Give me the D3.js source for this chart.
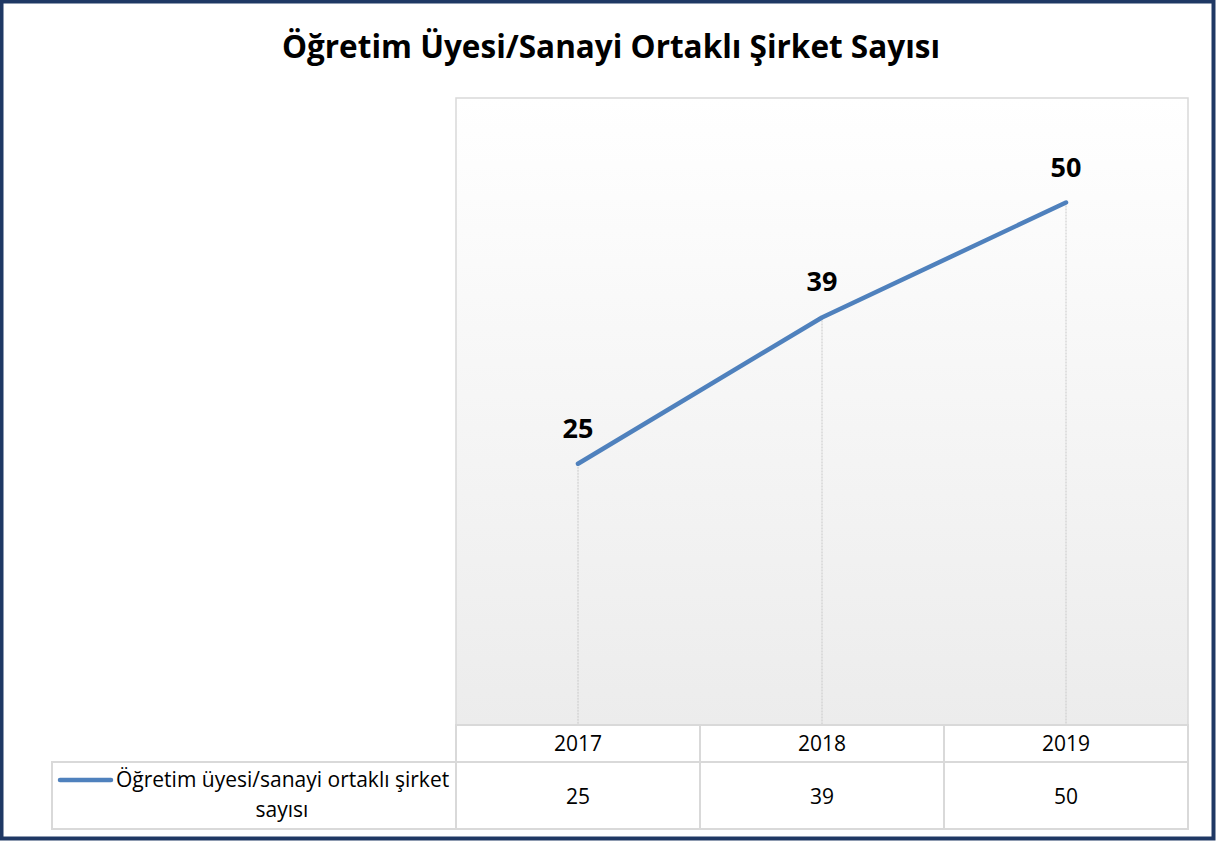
<!DOCTYPE html>
<html lang="tr">
<head>
    <meta charset='utf-8'>
    <title>Öğretim Üyesi/Sanayi Ortaklı Şirket Sayısı</title>
    <style>
        body{
            margin: 0;
            background: #fff;
        }
        text {
            font-family: "Open Sans", "Noto Sans", sans-serif;
            fill: #000;
        }
    </style>
</head>
<body>
<div id="chart"></div>
<script src='https://cdn.jsdelivr.net/npm/d3@7/dist/d3.min.js'></script>
<script>
    var width = 1217, height = 843;

    var years = ["2017", "2018", "2019"];
    var values = [25, 39, 50];
    var seriesName = "Öğretim üyesi/sanayi ortaklı şirket sayısı";
    var title = "Öğretim Üyesi/Sanayi Ortaklı Şirket Sayısı";

    var lineColor = "#4f81bd";
    var gridColor = "#d9d9d9";

    var plot = {left: 456, right: 1188, top: 98, bottom: 725};
    var table = {left: 52, row1: 762, bottom: 829};

    var svg = d3.select("#chart").append("svg")
        .attr("width", width).attr("height", height);

    // outer frame
    svg.append("rect")
        .attr("x", 1.5).attr("y", 1.5)
        .attr("width", width - 5).attr("height", height - 6)
        .attr("fill", "#fff")
        .attr("stroke", "#1f3864")
        .attr("stroke-width", 4);

    svg.append("text")
        .attr("x", 611).attr("y", 58)
        .style("text-anchor", "middle")
        .style("font-weight", "bold")
        .style("font-size", "31.5px")
        .text(title);

    var defs = svg.append("defs");
    var grad = defs.append("linearGradient")
        .attr("id", "bg").attr("x1", 0).attr("y1", 0).attr("x2", 0).attr("y2", 1);
    grad.append("stop").attr("offset", "0%").attr("stop-color", "#ffffff");
    grad.append("stop").attr("offset", "100%").attr("stop-color", "#ececec");

    var x = d3.scalePoint()
        .domain(years)
        .range([plot.left, plot.right])
        .padding(0.5);

    var y = d3.scaleLinear()
        .domain([0, 60])
        .range([plot.bottom, plot.top]);

    svg.append("rect")
        .attr("x", plot.left).attr("y", plot.top)
        .attr("width", plot.right - plot.left)
        .attr("height", plot.bottom - plot.top)
        .attr("fill", "url(#bg)")
        .attr("stroke", gridColor)
        .attr("stroke-width", 1.5);

    var data = years.map(function(d, i){ return {year: d, value: values[i]}; });

    // drop lines
    svg.selectAll(".drop")
        .data(data).enter()
        .append("line")
        .attr("class", "drop")
        .attr("x1", function(d){ return x(d.year); })
        .attr("x2", function(d){ return x(d.year); })
        .attr("y1", function(d){ return y(d.value); })
        .attr("y2", plot.bottom)
        .attr("stroke", "#c8c8c8")
        .attr("stroke-width", 1)
        .attr("stroke-dasharray", "2,1");

    var line = d3.line()
        .x(function(d){ return x(d.year); })
        .y(function(d){ return y(d.value); });

    svg.append("path")
        .datum(data)
        .attr("d", line)
        .attr("fill", "none")
        .attr("stroke", lineColor)
        .attr("stroke-width", 4.5)
        .attr("stroke-linecap", "round")
        .attr("stroke-linejoin", "round");

    svg.selectAll(".lbl")
        .data(data).enter()
        .append("text")
        .attr("class", "lbl")
        .attr("x", function(d){ return x(d.year); })
        .attr("y", function(d){ return y(d.value) - 26; })
        .style("text-anchor", "middle")
        .style("font-weight", "bold")
        .style("font-size", "27px")
        .text(function(d){ return d.value; });

    // data table
    var colW = x.step();
    var tbl = svg.append("g")
        .attr("stroke", gridColor)
        .attr("stroke-width", 2)
        .attr("fill", "none");
    tbl.append("rect")
        .attr("x", plot.left).attr("y", plot.bottom)
        .attr("width", plot.right - plot.left).attr("height", table.bottom - plot.bottom);
    tbl.append("rect")
        .attr("x", table.left).attr("y", table.row1)
        .attr("width", plot.right - table.left).attr("height", table.bottom - table.row1);
    years.slice(1).forEach(function(d){
        tbl.append("line")
            .attr("x1", x(d) - colW / 2).attr("x2", x(d) - colW / 2)
            .attr("y1", plot.bottom).attr("y2", table.bottom);
    });

    svg.selectAll(".yr")
        .data(years).enter()
        .append("text")
        .attr("x", function(d){ return x(d); })
        .attr("y", 751)
        .style("text-anchor", "middle")
        .style("font-size", "21px")
        .text(function(d){ return d; });

    svg.selectAll(".val")
        .data(data).enter()
        .append("text")
        .attr("x", function(d){ return x(d.year); })
        .attr("y", 804)
        .style("text-anchor", "middle")
        .style("font-size", "21px")
        .text(function(d){ return d.value; });

    // legend key
    svg.append("line")
        .attr("x1", 60).attr("x2", 111)
        .attr("y1", 780).attr("y2", 780)
        .attr("stroke", lineColor)
        .attr("stroke-width", 4.5)
        .attr("stroke-linecap", "round");

    var words = seriesName.split(" ");
    svg.append("text")
        .attr("x", 116).attr("y", 787)
        .style("font-size", "21px")
        .text(words.slice(0, 4).join(" "));
    svg.append("text")
        .attr("x", 282).attr("y", 817)
        .style("text-anchor", "middle")
        .style("font-size", "21px")
        .text(words.slice(4).join(" "));
</script>
</body>
</html>
